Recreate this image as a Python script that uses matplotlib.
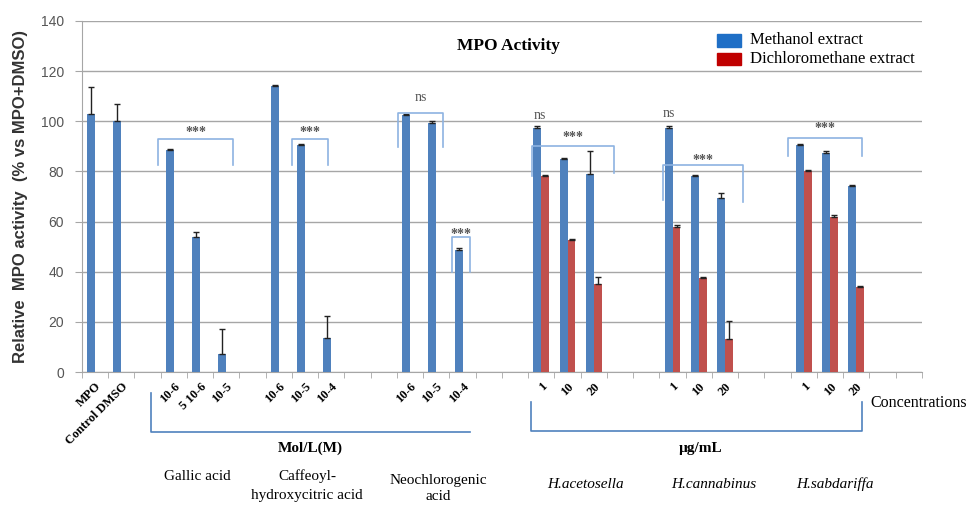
"""MPO activity - methanol vs dichloromethane extracts (bar chart with brackets)."""

import numpy as np
import matplotlib
matplotlib.use("Agg")
import matplotlib.pyplot as plt

nan = np.nan

# one entry per category slot (empty slots keep the spacing between groups)
categories = ["MPO", "Control DMSO", "",
              "10-6", "5 10-6", "10-5", "",
              "10-6", "10-5", "10-4", "", "",
              "10-6", "10-5", "10-4", "", "",
              "1", "10", "20", "", "",
              "1", "10", "20", "", "",
              "1", "10", "20", "", ""]

methanol = [103, 100, nan,
            88.5, 54, 7, nan,
            114, 90.5, 13.5, nan, nan,
            102.5, 99.5, 48.5, nan, nan,
            97.5, 85, 79, nan, nan,
            97.5, 78, 69.5, nan, nan,
            90.5, 87.5, 74, nan, nan]
methanol_err = [10.5, 7, 0,
                0.5, 2, 10, 0,
                0.5, 0.5, 9, 0, 0,
                0.5, 0.5, 1, 0, 0,
                0.5, 0.5, 9, 0, 0,
                0.5, 0.5, 2, 0, 0,
                0.5, 0.5, 0.5, 0, 0]

dichloro = [nan] * 17 + [78, 52.5, 35, nan, nan,
                         58, 37.5, 13, nan, nan,
                         80, 62, 34, nan, nan]
dichloro_err = [0] * 17 + [0.5, 0.5, 3, 0, 0,
                           0.5, 0.5, 7.5, 0, 0,
                           0.5, 0.5, 0.5, 0, 0]

# significance brackets: (x gauche, x droite, haut, bas gauche, bas droite, texte, y texte)
brackets = [
    (2.90, 5.75, 92.8, 82.5, 82.5, "***", 95.5),
    (8.00, 9.39, 92.8, 82.5, 82.5, "***", 95.5),
    (12.04, 13.75, 103.4, 89.9, 89.9, "ns", 109.5),
    (14.10, 14.79, 54.0, 40.0, 40.0, "***", 55.0),
    (17.14, 20.25, 90.2, 78.0, 79.5, "***", 93.5),
    (22.13, 25.20, 82.6, 68.6, 68.0, "***", 84.5),
    (26.88, 29.71, 93.4, 86.1, 86.1, "***", 97.0),
]
ns_marks = [(17.46, 102.5), (22.35, 103.0)]

# legends below the axis
unit_brackets = [(2.63, 14.79, -23.8, -8.4, None, "Mol/L(M)", 8.7),
                 (17.12, 29.71, -23.6, -11.8, -11.8, "µg/mL", 23.55)]
group_names = ["Gallic acid", "Caffeoyl-\nhydroxycitric acid", "Neochlorogenic\nacid",
               "H.acetosella", "H.cannabinus", "H.sabdariffa"]
group_x = [4.38, 8.57, 13.57, 19.17, 24.05, 28.7]
group_y = [-41.8, -38.8, -40.8, -44.7, -44.7, -44.7]
group_spacing = [1.0, 1.55, 1.3, 1.0, 1.0, 1.0]
group_italic = [False, False, False, True, True, True]

BLUE = "#4f81bd"
RED = "#c0504d"
BRACKET = "#8db3e2"
SERIF = "Liberation Serif"

fig = plt.figure(figsize=(9.75, 5.08), dpi=100)
ax = fig.add_axes([0.0841, 0.2677, 0.8615, 0.691])

n = len(categories)
x = np.arange(n)
w = 0.3
ax.bar(x + 0.35, methanol, w, color=BLUE, zorder=3,
       yerr=[np.zeros(n), methanol_err], error_kw=dict(ecolor="#222222", lw=1, capsize=2.5, capthick=1, zorder=4))
ax.bar(x + 0.65, dichloro, w, color=RED, zorder=3,
       yerr=[np.zeros(n), dichloro_err], error_kw=dict(ecolor="#222222", lw=1, capsize=2.5, capthick=1, zorder=4))

ax.set_xlim(0, n)
ax.set_ylim(0, 140)
ax.set_yticks(np.arange(0, 141, 20))
ax.yaxis.grid(True, color="#a6a6a6", lw=1)
ax.set_axisbelow(True)
for s in ["top", "right"]:
    ax.spines[s].set_visible(False)
for s in ["left", "bottom"]:
    ax.spines[s].set_color("#a6a6a6")
ax.tick_params(axis="y", length=5, color="#a6a6a6", labelsize=10, labelcolor="#555555", pad=8)
for lab in ax.get_yticklabels():
    lab.set_family("Liberation Sans")

ax.set_xticks(x + 0.5)
ax.set_xticklabels(categories, rotation=45, ha="right", rotation_mode="anchor",
                   family=SERIF, fontsize=9, fontweight="bold")
ax.tick_params(axis="x", length=0, pad=6)
ax.set_xticks(np.arange(n + 1), minor=True)
ax.tick_params(axis="x", which="minor", length=4, color="#a6a6a6")

ax.set_ylabel("Relative  MPO activity  (% vs MPO+DMSO)", family="Liberation Sans",
              fontweight="bold", fontsize=12, color="#333333", labelpad=9)

for x0, x1, top, b0, b1, txt, ty in brackets:
    ax.plot([x0, x0, x1, x1], [b0, top, top, b1], color=BRACKET, lw=1.2, zorder=5)
    ax.text((x0 + x1) / 2, ty, txt, ha="center", va="center", family=SERIF, fontsize=10,
            fontweight="bold" if txt == "***" else "normal", color="#555555", zorder=6)
for nx, ny in ns_marks:
    ax.text(nx, ny, "ns", ha="center", va="center", family=SERIF, fontsize=10, color="#555555")

ax.text(16.24, 130, "MPO Activity", ha="center", va="center", family=SERIF,
        fontsize=12.5, fontweight="bold")

# accolades d'unités sous l'axe
for x0, x1, yb, y0, y1, txt, tx in unit_brackets:
    xs, ys = [x0, x0, x1], [y0, yb, yb]
    if y1 is not None:
        xs.append(x1)
        ys.append(y1)
    ax.plot(xs, ys, color="#4f81bd", lw=1.2, clip_on=False)
    ax.text(tx, -30.5, txt, ha="center", va="center", family=SERIF,
            fontsize=11, fontweight="bold")

for name, gx, gy, ls, it in zip(group_names, group_x, group_y, group_spacing, group_italic):
    ax.text(gx, gy, name, ha="center", va="center" if "\n" not in name else "top",
            family=SERIF, fontsize=11, style="italic" if it else "normal", linespacing=ls)

ax.text(30.03, -12.4, "Concentrations", ha="left", va="center", family=SERIF, fontsize=11.5)

# légende manuelle
ax.add_patch(plt.Rectangle((24.2, 129.5), 0.9, 5.4, color="#1f6fc6", clip_on=False))
ax.add_patch(plt.Rectangle((24.2, 122.3), 0.9, 5.0, color="#c00000", clip_on=False))
ax.text(25.45, 132.3, "Methanol extract", ha="left", va="center", family=SERIF, fontsize=12)
ax.text(25.45, 125.0, "Dichloromethane extract", ha="left", va="center", family=SERIF, fontsize=12)

fig.savefig("out.png", dpi=100)
